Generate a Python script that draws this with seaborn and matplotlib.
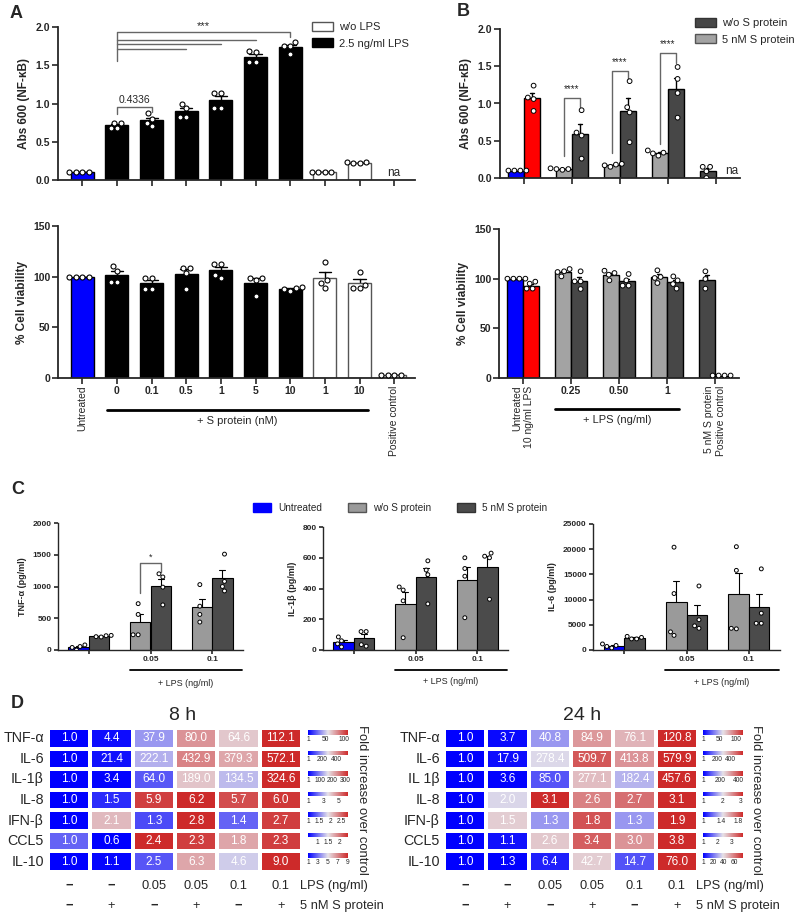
import numpy as np
import pandas as pd
import matplotlib
matplotlib.use('Agg')
import matplotlib.pyplot as plt
import matplotlib.colors as mcolors
import matplotlib.cm as cm
from matplotlib.patches import Patch
import seaborn as sns

# ---------------- panel A : NF-kB and viability ----------------
a_keys = ['U', '0', '0.1', '0.5', '1', '5', '10', '1w', '10w', 'PC']
a_ticks = ['Untreated', '0', '0.1', '0.5', '1', '5', '10', '1', '10', 'Positive control']
a_colors = ['#0000ff'] + ['#000000'] * 6 + ['#ffffff'] * 3
a_nfkb = [
    [0.10, 0.10, 0.10, 0.10],
    [0.68, 0.75, 0.74, 0.68],
    [0.87, 0.80, 0.75, 0.70],
    [1.00, 0.94, 0.83, 0.83],
    [1.14, 1.14, 0.94, 0.94],
    [1.67, 1.69, 1.54, 1.54],
    [1.80, 1.75, 1.75, 1.65],
    [0.11, 0.11, 0.11, 0.11],
    [0.23, 0.23, 0.22, 0.22],
    [],
]
a_viab = [
    [100, 100, 100, 100],
    [110.6, 105.7, 95.2, 95.2],
    [99, 99, 87.6, 87.6],
    [109, 109, 104, 87.6],
    [112.6, 112.6, 98.5, 101.7],
    [99, 99, 96.8, 81],
    [89.6, 89, 88, 86],
    [114.9, 96.8, 94.2, 89.3],
    [105, 89.3, 91.9, 89.3],
    [2.5, 2.5, 2.5, 2.5],
]

# ---------------- panel B : LPS with / without S protein ----------------
b_keys = ['ctrl', '0.25', '0.50', '1', 'S']
b_ticks = ['Untreated\n10 ng/ml LPS', '0.25', '0.50', '1', '5 nM S protein\nPositive control']
LIGHT, DARK = '#a3a3a3', '#474747'
b_left_colors = ['#0000ff', LIGHT, LIGHT, LIGHT, DARK]
b_right_colors = ['#ff0000', DARK, DARK, DARK, '#ffffff']
b_nfkb_left = [[0.10, 0.10, 0.10, 0.10], [0.13, 0.12, 0.12, 0.11], [0.19, 0.17, 0.18, 0.15],
               [0.30, 0.34, 0.37, 0.33], [0.15, 0.15, 0.09, 0.0]]
b_nfkb_right = [[1.24, 1.08, 1.06, 0.90], [0.91, 0.61, 0.57, 0.26], [1.30, 0.95, 0.88, 0.48],
                [1.49, 1.33, 1.14, 0.81], []]
b_viab_left = [[100, 100, 100, 100], [109.7, 107.4, 106.7, 102.3], [108, 105.7, 104, 98.3],
               [108.4, 101.7, 100.7, 95.6], [107.4, 99.7, 90]]
b_viab_right = [[97, 95, 90, 90], [107.4, 97.3, 97.3, 89.6], [104.7, 98.3, 93, 93],
                [102.3, 98.3, 94.6, 90], [2.5, 2.5, 2.5, 2.5]]

# ---------------- panel C : cytokines (pg/ml) ----------------
c_keys = ['ctrl', '0.05', '0.1']
c_ticks = ['', '0.05', '0.1']
C_LIGHT, C_DARK = '#9a9a9a', '#4b4b4b'
c_left_colors = ['#0000ff', C_LIGHT, C_LIGHT]
c_right_colors = [C_DARK, C_DARK, C_DARK]
tnf_left = [[0, 40, 55, 80], [730, 560, 240, 240], [1030, 690, 560, 440]]
tnf_right = [[230, 225, 210, 205], [1200, 1150, 990, 710], [1510, 1080, 1000, 930]]
il1b_left = [[85, 60, 40, 20], [410, 390, 320, 80], [600, 530, 480, 210]]
il1b_right = [[120, 120, 35, 25], [580, 520, 490, 300], [630, 600, 610, 330]]
il6_left = [[1200, 900, 700, 400], [20400, 11200, 3600, 2900], [20500, 15800, 4300, 4200]]
il6_right = [[2700, 2500, 2200, 2200], [12700, 6000, 4300, 4800], [16100, 7300, 5300, 5300]]

# ---------------- panel D : fold change heatmaps ----------------
names_8h = ['TNF-α', 'IL-6', 'IL-1β', 'IL-8', 'IFN-β', 'CCL5', 'IL-10']
fold_8h = [
    [1.0, 4.4, 37.9, 80.0, 64.6, 112.1],
    [1.0, 21.4, 222.1, 432.9, 379.3, 572.1],
    [1.0, 3.4, 64.0, 189.0, 134.5, 324.6],
    [1.0, 1.5, 5.9, 6.2, 5.7, 6.0],
    [1.0, 2.1, 1.3, 2.8, 1.4, 2.7],
    [1.0, 0.6, 2.4, 2.3, 1.8, 2.3],
    [1.0, 1.1, 2.5, 6.3, 4.6, 9.0],
]
cbar_ticks_8h = [[1, 50, 100], [1, 200, 400], [1, 100, 200, 300], [1, 3, 5],
                 [1, 1.5, 2, 2.5], [1, 1.5, 2], [1, 3, 5, 7, 9]]
names_24h = ['TNF-α', 'IL-6', 'IL 1β', 'IL-8', 'IFN-β', 'CCL5', 'IL-10']
fold_24h = [
    [1.0, 3.7, 40.8, 84.9, 76.1, 120.8],
    [1.0, 17.9, 278.4, 509.7, 413.8, 579.9],
    [1.0, 3.6, 85.0, 277.1, 182.4, 457.6],
    [1.0, 2.0, 3.1, 2.6, 2.7, 3.1],
    [1.0, 1.5, 1.3, 1.8, 1.3, 1.9],
    [1.0, 1.1, 2.6, 3.4, 3.0, 3.8],
    [1.0, 1.3, 6.4, 42.7, 14.7, 76.0],
]
cbar_ticks_24h = [[1, 50, 100], [1, 200, 400], [1, 200, 400], [1, 2, 3],
                  [1, 1.4, 1.8], [1, 2, 3], [1, 20, 40, 60]]
lps_row = ['−', '−', '0.05', '0.05', '0.1', '0.1']
s_row = ['−', '+', '−', '+', '−', '+']

# ---------------- style ----------------
sns.set_style('ticks')
plt.rcParams['font.family'] = ['Liberation Sans', 'DejaVu Sans']
plt.rcParams['axes.linewidth'] = 1.3
plt.rcParams['xtick.major.width'] = 1.2
plt.rcParams['ytick.major.width'] = 1.2
hm_font = ['Liberation Sans Narrow', 'Liberation Sans', 'DejaVu Sans']
heat_cmap = mcolors.LinearSegmentedColormap.from_list('bwr_soft', ['#0000ff', '#e6e2e8', '#cd2a2a'])

W, H = 800, 917
fig = plt.figure(figsize=(8, 9.17), dpi=100)


def px(x0, y0, x1, y1):
    return [x0 / W, 1 - y1 / H, (x1 - x0) / W, (y1 - y0) / H]


def style_axis(ax, ylim, yticks, fmt, ylabel, fs_tick, fs_label, tick_len=4):
    ax.set_ylim(*ylim)
    ax.set_yticks(yticks)
    ax.set_yticklabels([fmt.format(t) for t in yticks], fontweight='bold', fontsize=fs_tick)
    ax.set_ylabel(ylabel, fontweight='bold', fontsize=fs_label)
    ax.set_xlabel('')
    ax.tick_params(length=tick_len, pad=1.5)
    sns.despine(ax=ax)


def single_bars(ax, reps, size):
    df = pd.DataFrame([(k, v) for k, r in zip(a_keys, reps) for v in r], columns=['group', 'value'])
    sns.barplot(data=df, x='group', y='value', order=a_keys, hue='group', hue_order=a_keys,
                palette=dict(zip(a_keys, a_colors)), legend=False, errorbar='se', capsize=0.35,
                width=0.66, edgecolor='black', linewidth=1, saturation=1,
                err_kws={'color': 'black', 'linewidth': 1, 'zorder': 0.5}, ax=ax)
    for p in ax.patches:
        if mcolors.to_hex(p.get_facecolor()) == '#ffffff':
            p.set_edgecolor('#555555')
    sns.swarmplot(data=df, x='group', y='value', order=a_keys, color='white', edgecolor='black',
                  linewidth=0.8, size=size, ax=ax, zorder=3)
    ax.set_xlim(-0.7, 9.6)


def paired_bars(ax, keys, left, right, lcols, rcols, size, lw=1.0, capsize=0.2):
    rows = []
    for k, l, r in zip(keys, left, right):
        rows += [(k, 'L', v) for v in l]
        rows += [(k, 'R', v) for v in r]
    df = pd.DataFrame(rows, columns=['group', 'slot', 'value'])
    sns.barplot(data=df, x='group', y='value', hue='slot', order=keys, hue_order=['L', 'R'],
                errorbar='se', capsize=capsize, width=0.66, linewidth=lw, edgecolor='black',
                saturation=1, err_kws={'color': 'black', 'linewidth': lw, 'zorder': 0.5},
                legend=False, ax=ax)
    for p in ax.patches:
        cx = p.get_x() + p.get_width() / 2
        g = int(round(cx))
        p.set_facecolor(lcols[g] if cx < g else rcols[g])
    sns.swarmplot(data=df, x='group', y='value', hue='slot', order=keys, hue_order=['L', 'R'],
                  dodge=True, palette={'L': 'white', 'R': 'white'}, edgecolor='black',
                  linewidth=0.7, size=size, legend=False, ax=ax, zorder=3)
    ax.set_xlim(-0.5, len(keys) - 0.5)


def bracket(ax, x0, x1, top, y0, y1, text, ty, fs, color='#666666'):
    ax.plot([x0, x0, x1, x1], [y0, top, top, y1], color=color, lw=1, clip_on=False)
    if text:
        ax.text((x0 + x1) / 2, ty, text, ha='center', va='bottom', fontsize=fs)


def group_line(ax, x0, x1, y_line, y_text, text, fs, lw):
    tr = ax.get_xaxis_transform()
    ax.plot([x0, x1], [y_line, y_line], color='black', lw=lw, transform=tr, clip_on=False)
    ax.text((x0 + x1) / 2, y_text, text, transform=tr, ha='center', va='center', fontsize=fs)


def set_ticklabels(ax, labels, rotated, fs):
    ax.set_xticks(range(len(labels)))
    ax.set_xticklabels(labels)
    for i, lbl in enumerate(ax.get_xticklabels()):
        lbl.set_fontsize(fs)
        if i in rotated:
            lbl.set_rotation(90)
            lbl.set_ha('center')
            lbl.set_va('top')
            lbl.set_multialignment('right')
        else:
            lbl.set_fontweight('bold')


# ---- A top
ax = fig.add_axes(px(58, 27, 415, 180))
single_bars(ax, a_nfkb, 3.6)
style_axis(ax, (0, 2.0), [0, 0.5, 1.0, 1.5, 2.0], '{:.1f}', 'Abs 600 (NF-κB)', 7.5, 8.5)
ax.set_xticks(range(len(a_keys)))
ax.set_xticklabels([])
ax.text(9, 0.09, 'na', ha='center', va='center', fontsize=8.5)
bracket(ax, 1, 2, 0.95, 0.86, 0.89, '0.4336', 0.975, 7.5)
bracket(ax, 1, 6, 1.93, 1.55, 1.87, '***', 1.945, 8)
for x_end, h in [(5, 1.835), (4, 1.78), (3, 1.71)]:
    ax.plot([1, x_end], [h, h], color='#666666', lw=1)
fig.legend(handles=[Patch(facecolor='white', edgecolor='#555555', label='w/o LPS'),
                    Patch(facecolor='black', edgecolor='black', label='2.5 ng/ml LPS')],
           loc='upper left', bbox_to_anchor=(306 / W, 1 - 16 / H), frameon=False, fontsize=8,
           handlelength=1.9, handleheight=0.9, labelspacing=0.55, borderpad=0, handletextpad=0.6)

# ---- A bottom
ax = fig.add_axes(px(58, 226, 415, 378))
single_bars(ax, a_viab, 3.6)
style_axis(ax, (0, 150), [0, 50, 100, 150], '{:g}', '% Cell viability', 7.5, 8.5)
set_ticklabels(ax, a_ticks, (0, 9), 7.5)
group_line(ax, 0.72, 8.24, -0.21, -0.28, '+ S protein (nM)', 8, 2)

# ---- B top
ax = fig.add_axes(px(500, 29, 740, 178))
paired_bars(ax, b_keys, b_nfkb_left, b_nfkb_right, b_left_colors, b_right_colors, 3.4)
style_axis(ax, (0, 2.0), [0, 0.5, 1.0, 1.5, 2.0], '{:.1f}', 'Abs 600 (NF-κB)', 7.5, 8.5)
ax.set_xticks(range(len(b_keys)))
ax.set_xticklabels([])
ax.text(4.19, 0.09, 'na', ha='left', va='center', fontsize=8.5)
for g, top, y0, y1 in [(1, 1.07, 0.29, 0.95), (2, 1.44, 0.33, 1.33), (3, 1.68, 0.45, 1.55)]:
    bracket(ax, g - 0.165, g + 0.165, top, y0, y1, '****', top + 0.05, 7)
fig.legend(handles=[Patch(facecolor=DARK, edgecolor='#333333', label='w/o S protein'),
                    Patch(facecolor=LIGHT, edgecolor='#555555', label='5 nM S protein')],
           loc='upper left', bbox_to_anchor=(689 / W, 1 - 12 / H), frameon=False, fontsize=8,
           handlelength=1.9, handleheight=0.9, labelspacing=0.55, borderpad=0, handletextpad=0.6)

# ---- B bottom
ax = fig.add_axes(px(499, 229, 739, 378))
paired_bars(ax, b_keys, b_viab_left, b_viab_right, b_left_colors, b_right_colors, 3.4)
style_axis(ax, (0, 150), [0, 50, 100, 150], '{:g}', '% Cell viability', 7.5, 8.5)
set_ticklabels(ax, b_ticks, (0, 4), 7.5)
group_line(ax, 0.66, 3.26, -0.208, -0.28, '+ LPS (ng/ml)', 8, 2)

# ---- C
c_panels = [
    ((58, 523, 243, 650), tnf_left, tnf_right, (0, 2000), [0, 500, 1000, 1500, 2000], 'TNF-α (pg/ml)'),
    ((323, 527, 508, 650), il1b_left, il1b_right, (0, 800), [0, 200, 400, 600, 800], 'IL-1β (pg/ml)'),
    ((593, 524, 780, 650), il6_left, il6_right, (0, 25000), [0, 5000, 10000, 15000, 20000, 25000], 'IL-6 (pg/ml)'),
]
for i, (box, left, right, ylim, yt, lab) in enumerate(c_panels):
    ax = fig.add_axes(px(*box))
    paired_bars(ax, c_keys, left, right, c_left_colors, c_right_colors, 2.8, lw=0.8, capsize=0.2)
    style_axis(ax, ylim, yt, '{:g}', lab, 6, 6.5, tick_len=3)
    ax.spines[['left', 'bottom']].set_linewidth(1.0)
    set_ticklabels(ax, c_ticks, (), 6)
    group_line(ax, 0.66, 2.48, -0.16, -0.26, '+ LPS (ng/ml)', 6.5, 1.3)
    if i == 0:
        bracket(ax, 1 - 0.165, 1 + 0.165, 1375, 900, 1230, '*', 1390, 6.5)
fig.legend(handles=[Patch(facecolor='#0000ff', edgecolor='#0000ff', label='Untreated'),
                    Patch(facecolor=C_LIGHT, edgecolor='#555555', label='w/o S protein'),
                    Patch(facecolor=C_DARK, edgecolor='#333333', label='5 nM S protein')],
           loc='center', bbox_to_anchor=(400 / W, 1 - 508 / H), ncol=3, frameon=False, fontsize=7.2,
           handlelength=1.8, handleheight=0.9, columnspacing=2.6, handletextpad=0.7, borderpad=0)


# ---- D heatmaps
def heat_panel(box, cbar_x, names, vals, ticks, title, title_x, fold_x):
    x0, y0, x1, y1 = box
    ax = fig.add_axes(px(x0, y0, x1, y1))
    arr = np.array(vals, dtype=float)
    lo = arr.min(axis=1, keepdims=True)
    hi = arr.max(axis=1, keepdims=True)
    scaled = pd.DataFrame((arr - lo) / (hi - lo), index=names)
    sns.heatmap(scaled, ax=ax, cmap=heat_cmap, vmin=0, vmax=1, annot=arr, fmt='.1f',
                annot_kws={'color': 'white', 'fontsize': 8.5, 'family': hm_font},
                linewidths=1.5, linecolor='white', cbar=False, xticklabels=False, yticklabels=names)
    ax.tick_params(axis='y', length=0, pad=3)
    ax.set_yticklabels(names, rotation=0, fontsize=10.3, family=hm_font)
    ax.set_ylabel('')
    rh = (y1 - y0) / len(names)
    for i in range(len(names)):
        top = y0 + i * rh
        cax = fig.add_axes(px(cbar_x, top + 2, cbar_x + 40, top + 6.5))
        sm = cm.ScalarMappable(norm=mcolors.Normalize(lo[i, 0], hi[i, 0]), cmap=heat_cmap)
        cb = fig.colorbar(sm, cax=cax, orientation='horizontal')
        cb.set_ticks(ticks[i])
        cb.set_ticklabels([f'{t:g}' for t in ticks[i]])
        cb.ax.tick_params(labelsize=4.8, length=0, pad=1)
        cb.outline.set_visible(False)
    tr = ax.get_xaxis_transform()
    n = arr.shape[1]
    for j in range(n):
        ax.text(j + 0.5, -0.097, lps_row[j], transform=tr, ha='center', va='center',
                fontsize=9.3, family=hm_font, fontweight='bold' if lps_row[j] == '−' else 'normal')
        ax.text(j + 0.5, -0.236, s_row[j], transform=tr, ha='center', va='center',
                fontsize=9.3, family=hm_font, fontweight='bold' if s_row[j] == '−' else 'normal')
    ax.text(n - 0.05, -0.097, 'LPS (ng/ml)', transform=tr, ha='left', va='center', fontsize=9.3, family=hm_font)
    ax.text(n - 0.05, -0.236, '5 nM S protein', transform=tr, ha='left', va='center', fontsize=9.3, family=hm_font)
    fig.text(title_x / W, 1 - 716 / H, title, ha='center', va='center', fontsize=14, family=hm_font)
    fig.text(fold_x / W, 1 - 800 / H, 'Fold increase over control', rotation=270,
             ha='center', va='center', fontsize=9.4, family=hm_font)


heat_panel((48, 728, 302, 872), 308, names_8h, fold_8h, cbar_ticks_8h, '8 h', 183, 362)
heat_panel((444, 728, 698, 872), 703, names_24h, fold_24h, cbar_ticks_24h, '24 h', 582, 756)

# ---- panel letters
for letter, x, y in [('A', 10, 13), ('B', 457, 12), ('C', 11, 490), ('D', 11, 703)]:
    fig.text(x / W, 1 - y / H, letter, fontsize=13, fontweight='bold', ha='left', va='center')

fig.savefig('out.png', dpi=100)
